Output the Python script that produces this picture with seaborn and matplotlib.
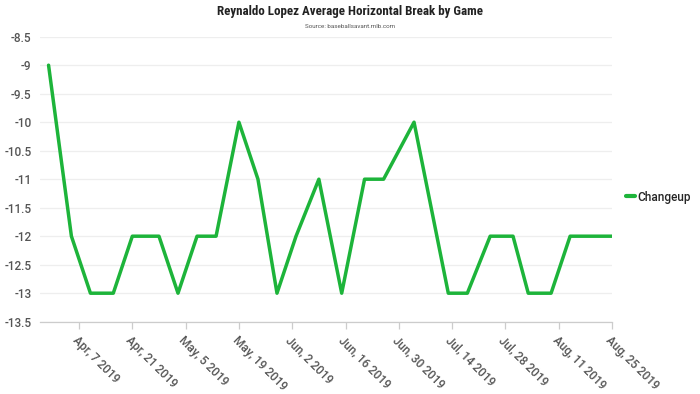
import matplotlib
matplotlib.use("Agg")
import matplotlib.pyplot as plt
import matplotlib.font_manager as fm
from matplotlib.lines import Line2D
import seaborn as sns
import pandas as pd

game_dates = ["2019-03-30", "2019-04-05", "2019-04-10", "2019-04-16", "2019-04-21",
              "2019-04-28", "2019-05-03", "2019-05-08", "2019-05-13", "2019-05-19",
              "2019-05-24", "2019-05-29", "2019-06-03", "2019-06-09", "2019-06-15",
              "2019-06-21", "2019-06-26", "2019-07-04", "2019-07-13", "2019-07-18",
              "2019-07-24", "2019-07-30", "2019-08-03", "2019-08-09", "2019-08-14",
              "2019-08-20", "2019-08-25"]
changeup_break = [-9, -12, -13, -13, -12,
                  -12, -13, -12, -12, -10,
                  -11, -13, -12, -11, -13,
                  -11, -11, -10, -13, -13,
                  -12, -12, -13, -13, -12,
                  -12, -12]
tick_dates = ["2019-04-07", "2019-04-21", "2019-05-05", "2019-05-19", "2019-06-02",
              "2019-06-16", "2019-06-30", "2019-07-14", "2019-07-28", "2019-08-11",
              "2019-08-25"]
tick_labels = ["Apr, 7 2019", "Apr, 21 2019", "May, 5 2019", "May, 19 2019", "Jun, 2 2019",
               "Jun, 16 2019", "Jun, 30 2019", "Jul, 14 2019", "Jul, 28 2019", "Aug, 11 2019",
               "Aug, 25 2019"]
y_ticks = [-13.5, -13, -12.5, -12, -11.5, -11, -10.5, -10, -9.5, -9, -8.5]
series_name = "Changeup"

df = pd.DataFrame({"date": pd.to_datetime(game_dates), "value": changeup_break,
                   "pitch": series_name})

sns.set_theme(style="white")
plt.rcParams['font.family'] = ['Roboto', 'DejaVu Sans']

# look for a condensed bold face for the title
title_prop = None
title_size = 8.3
cands = []
for f in fm.fontManager.ttflist:
    fn = f.fname.lower()
    if ("condensed" in fn or "narrow" in fn) and ("bold" in fn) and ("oblique" not in fn) and ("italic" not in fn):
        cands.append(f.fname)
order = ["robotocondensed", "liberationsansnarrow", "dejavusanscondensed"]
for key in order:
    hit = [c for c in cands if key in c.lower().replace("-", "").replace("_", "")]
    if hit:
        title_prop = fm.FontProperties(fname=hit[0])
        title_size = {"robotocondensed": 9.4, "liberationsansnarrow": 9.4,
                      "dejavusanscondensed": 8.1}[key]
        break
if title_prop is None:
    title_prop = fm.FontProperties(family="Roboto", weight="bold")

fig = plt.figure(figsize=(7, 3.94), dpi=100)
ax = fig.add_axes([40/700, 1-321.7/394, (612-40)/700, (321.7-36.7)/394])

sns.lineplot(data=df, x="date", y="value", hue="pitch", palette=["#1db43a"],
             linewidth=2.5, ax=ax, legend=False)

ax.set_ylim(-13.5, -8.5)
ax.set_yticks(y_ticks)
ax.set_yticklabels([f"{v:g}" for v in y_ticks], fontsize=8.5, color="#555555",
                   fontweight="medium")
ax.set_xlim(pd.Timestamp("2019-03-27 18:00"), pd.Timestamp("2019-08-25"))
ax.set_xticks(pd.to_datetime(tick_dates))
ax.set_xticklabels(tick_labels, rotation=-45, ha="left", va="top",
                   rotation_mode="anchor", fontsize=8.5, color="#555555",
                   fontweight="medium")
ax.grid(axis="y", color="#eeeeee", linewidth=0.9)
ax.grid(axis="x", visible=False)
for s in ["top", "right", "left"]:
    ax.spines[s].set_visible(False)
ax.spines["bottom"].set_color("#cccccc")
ax.spines["bottom"].set_linewidth(0.9)
ax.tick_params(axis="x", bottom=True, length=5, width=0.9, color="#cccccc", pad=4)
ax.tick_params(axis="y", left=False, length=0, pad=6)
ax.set_xlabel("")
ax.set_ylabel("")

t = fig.text(0.5, 1-12/394, "Reynaldo Lopez Average Horizontal Break by Game",
             ha="center", va="center", color="#222222", fontproperties=title_prop)
t.set_fontsize(title_size)
if title_prop.get_file() is None:
    t.set_fontweight("bold")
fig.text(0.5, 1-27/394, "Source: baseballsavant.mlb.com", ha="center", va="center",
         fontsize=4.5, color="#555555")

handle = Line2D([0], [0], color="#1db43a", linewidth=3)
fig.legend([handle], [series_name], loc="center left",
           bbox_to_anchor=(626/700, 1-197/394), frameon=False, borderpad=0,
           borderaxespad=0, handlelength=0.75, handletextpad=0.25,
           prop={"family": "Roboto", "size": 8.5, "weight": "medium"})

fig.savefig("out.png", dpi=100)
